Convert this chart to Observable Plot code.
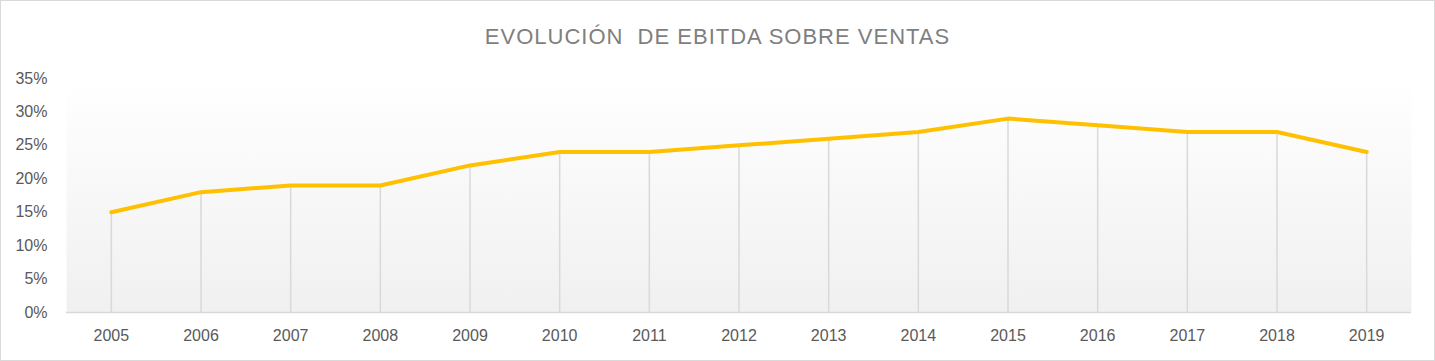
<!DOCTYPE html>
<html>
<head>
<meta charset="utf-8">
<script src="https://cdn.jsdelivr.net/npm/d3@7"></script>
<script src="https://cdn.jsdelivr.net/npm/@observablehq/plot@0.6"></script>
<style>
  html, body { margin: 0; padding: 0; background: #fff; }
  #wrap { position: relative; width: 1435px; height: 361px; overflow: hidden; background: #fff; }
  #title { height: 58px; line-height: 74px; text-align: center; font-family: "Liberation Sans", Arial, sans-serif;
           font-size: 22px; color: #7f7f7f; letter-spacing: 1px; white-space: pre; }
  #border { position: absolute; left: 0; top: 0; width: 1435px; height: 361px; box-sizing: border-box;
            border: 1px solid #d9d9d9; pointer-events: none; }
  svg { display: block; }
</style>
</head>
<body>
<div id="wrap">
  <div id="title">EVOLUCIÓN  DE EBITDA SOBRE VENTAS</div>
  <div id="chart"></div>
  <div id="border"></div>
</div>
<script>
const years = ["2005","2006","2007","2008","2009","2010","2011","2012","2013","2014","2015","2016","2017","2018","2019"];
const ebitdaPct = [15, 18, 19, 19, 22, 24, 24, 25, 26, 27, 29, 28, 27, 27, 24];
const yTicks = [0, 5, 10, 15, 20, 25, 30, 35];

const data = years.map((y, i) => ({year: y, value: ebitdaPct[i]}));

const defs = () => {
  const d = d3.create("svg:defs");
  const g = d.append("linearGradient").attr("id", "bgGrad").attr("x1", 0).attr("y1", 0).attr("x2", 0).attr("y2", 1);
  g.append("stop").attr("offset", "0%").attr("stop-color", "#ffffff");
  g.append("stop").attr("offset", "100%").attr("stop-color", "#f0f0f0");
  return d.node();
};

const chart = Plot.plot({
  width: 1435,
  height: 303,
  marginTop: 20,
  marginBottom: 49,
  marginLeft: 66,
  marginRight: 24,
  style: {fontSize: "16px", fontFamily: "'Liberation Sans', Arial, sans-serif", color: "#595959", background: "transparent"},
  x: {type: "point", domain: years, padding: 0.5, round: false, label: null},
  y: {domain: [0, 35], label: null},
  marks: [
    defs,
    Plot.frame({fill: "url(#bgGrad)", stroke: "none"}),
    Plot.ruleX(data, {x: "year", y1: 0, y2: "value", stroke: "#d9d9d9", strokeWidth: 1.5}),
    Plot.ruleY([0], {stroke: "#d9d9d9", strokeWidth: 1.5}),
    Plot.line(data, {x: "year", y: "value", stroke: "#FFC000", strokeWidth: 4, strokeLinejoin: "round", strokeLinecap: "round"}),
    Plot.axisY(yTicks, {tickSize: 0, tickPadding: 19, tickFormat: d => d + "%", label: null}),
    Plot.axisX(years, {tickSize: 0, tickPadding: 17, label: null})
  ]
});
document.getElementById("chart").appendChild(chart);
</script>
</body>
</html>
